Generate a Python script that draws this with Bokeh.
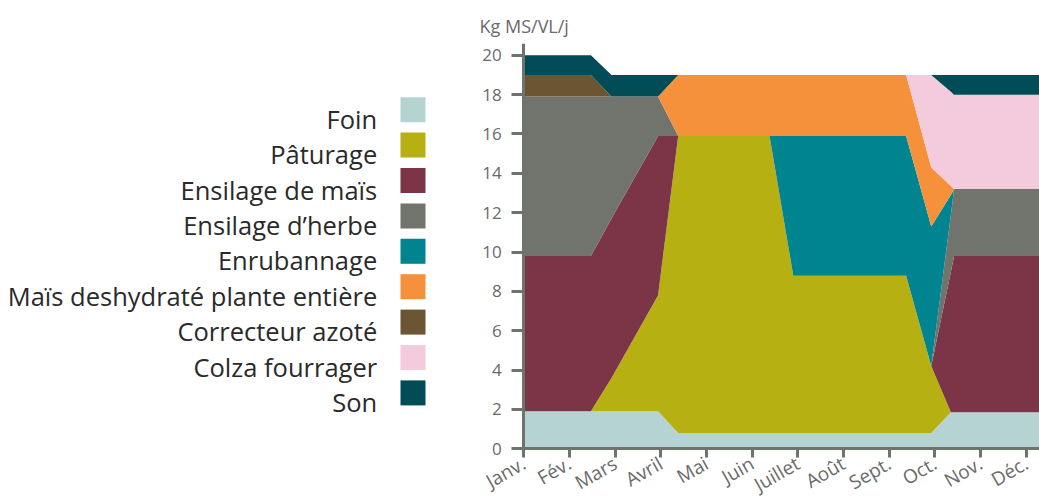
from bokeh.plotting import figure
from bokeh.layouts import row
from bokeh.models import ColumnDataSource, Range1d, FixedTicker
from bokeh.embed import file_html
from bokeh.resources import INLINE
from bokeh.core.properties import value

# ---- data (kg MS / VL / jour), thickness of each layer at breakpoints (months, Janv.=0)
months_x = [0, 1.47, 1.92, 2.94, 3.38, 5.38, 5.90, 8.37, 8.92, 9.35, 9.42, 12.0]
foin      = [1.9, 1.9, 1.9, 1.9, 0.8, 0.8, 0.8, 0.8, 0.8, 1.85, 1.85, 1.85]
paturage  = [0, 0, 1.7, 5.9, 15.1, 15.1, 8.0, 8.0, 3.4, 0, 0, 0]
ens_mais  = [7.9, 7.9, 8.1, 8.1, 0, 0, 0, 0, 0, 7.15, 7.95, 7.95]
ens_herbe = [8.1, 8.1, 6.2, 2.0, 0, 0, 0, 0, 0, 2.9, 3.4, 3.4]
enrubann  = [0, 0, 0, 0, 0, 0, 7.1, 7.1, 7.1, 1.0, 0, 0]
mais_deshy = [0, 0, 0, 0, 3.1, 3.1, 3.1, 3.1, 3.0, 0.45, 0, 0]
correcteur = [1.1, 1.1, 0, 0, 0, 0, 0, 0, 0, 0, 0, 0]
colza     = [0, 0, 0, 0, 0, 0, 0, 0, 4.7, 4.8, 4.8, 4.8]
son       = [1.0, 1.0, 1.1, 1.1, 0, 0, 0, 0, 0, 0.85, 1.0, 1.0]

series_names = ["Foin", "Pâturage", "Ensilage de maïs", "Ensilage d\u2019herbe", "Enrubannage",
                "Maïs deshydraté plante entière", "Correcteur azoté", "Colza fourrager", "Son"]
series_keys = ["foin", "paturage", "ens_mais", "ens_herbe", "enrubann", "mais_deshy",
               "correcteur", "colza", "son"]
colors = ["#b4d3d2", "#b6b012", "#7b3546", "#70746c", "#00848f", "#f6913b",
          "#6b5533", "#f4cbdc", "#004c57"]

month_labels = ["Janv.", "Fév.", "Mars", "Avril", "Mai", "Juin", "Juillet", "Août",
                "Sept.", "Oct.", "Nov.", "Déc."]
y_ticks = list(range(0, 21, 2))
y_title = "Kg MS/VL/j"

FONT = "Open Sans"
AXIS_COLOR = "#6f736e"
LABEL_COLOR = "#6a6a6a"

W, H = 1039, 499
TOP = 43
Y_TOP = 20.6
Y_BOTTOM = -2.58   # frame runs down to the page bottom; the x axis sits at y = 0
X_LEFT = -1.648    # frame runs left to the legend; the y axis sits at x = 0 (Janv.)
X_RIGHT = 11.29

# ---- legend figure (data coordinates = page pixels; frame aligned with main plot)
LW = 448
leg = figure(width=LW, height=H, x_range=Range1d(0, LW), y_range=Range1d(H, TOP),
             x_axis_type=None, y_axis_type=None, toolbar_location=None,
             output_backend="svg", min_border_left=0, min_border_right=0,
             min_border_top=TOP, min_border_bottom=0, outline_line_color=None)
leg.grid.grid_line_color = None
n = len(series_names)
ys = [109.2 + 35.4 * i for i in range(n)]
leg.rect(x=[412.5] * n, y=ys, width=25, height=25, fill_color=colors, line_color=None)
fs = 25.5
leg.text(x=[376.7] * n, y=[yy + 0.357 * fs for yy in ys], text=series_names,
         text_align="right", text_baseline="alphabetic",
         text_font=value(FONT), text_font_size=f"{fs}px", text_color="#2a2a2a")

# ---- main figure
MW = W - LW
p = figure(width=MW, height=H, x_range=Range1d(X_LEFT, X_RIGHT), y_range=Range1d(Y_BOTTOM, Y_TOP),
           toolbar_location=None, output_backend="svg",
           min_border_left=0, min_border_right=0, min_border_top=TOP,
           min_border_bottom=0, outline_line_color=None)
src = ColumnDataSource(dict(x=months_x, foin=foin, paturage=paturage, ens_mais=ens_mais,
                            ens_herbe=ens_herbe, enrubann=enrubann, mais_deshy=mais_deshy,
                            correcteur=correcteur, colza=colza, son=son))
p.varea_stack(stackers=series_keys, x="x", color=colors, source=src)

p.grid.visible = False
p.xaxis.fixed_location = 0
p.yaxis.fixed_location = 0
p.xaxis.ticker = FixedTicker(ticks=list(range(12)))
p.xaxis.major_label_overrides = {i: m for i, m in enumerate(month_labels)}
p.xaxis.major_label_orientation = 0.52
p.xaxis.bounds = (0, X_RIGHT)
p.yaxis.ticker = FixedTicker(ticks=y_ticks)
p.yaxis.bounds = (0, Y_TOP)
for ax in (p.xaxis, p.yaxis):
    ax.axis_line_width = 3
    ax.axis_line_color = AXIS_COLOR
    ax.major_tick_line_width = 3
    ax.major_tick_line_color = AXIS_COLOR
    ax.major_tick_in = 0
    ax.minor_tick_in = 0
    ax.minor_tick_out = 0
    ax.major_label_text_color = LABEL_COLOR
    ax.major_label_text_font = FONT
p.xaxis.major_label_text_font_size = "19px"
p.yaxis.major_label_text_font_size = "17px"
p.xaxis.major_tick_out = 9
p.yaxis.major_tick_out = 12
p.xaxis.major_label_standoff = 4
p.yaxis.major_label_standoff = 10

p.title.text = y_title
p.title.align = "left"
p.title.offset = 31
p.title.standoff = 12
p.title.text_font = FONT
p.title.text_font_style = "normal"
p.title.text_font_size = "18px"
p.title.text_color = LABEL_COLOR

layout = row(leg, p)
open("out.html", "w").write(file_html(layout, INLINE))
